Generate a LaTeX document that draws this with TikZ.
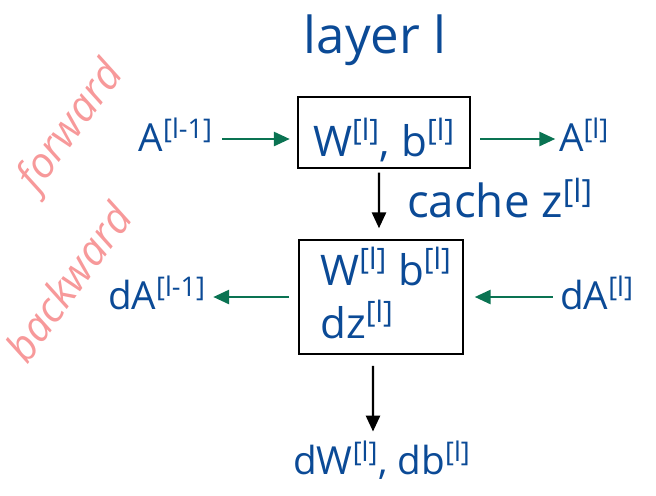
\documentclass[tikz,border=0pt]{standalone}
\usepackage{fontspec}
\setmainfont{Open Sans}
\usetikzlibrary{arrows.meta}
\definecolor{inkblue}{HTML}{0B4A96}
\definecolor{inkpink}{HTML}{F7999A}
\definecolor{inkgreen}{HTML}{0A7352}
\newcommand{\up}[1]{\textsuperscript{#1}}
\tikzset{
  lbl/.style={text=inkblue, inner sep=1pt, font=\fontsize{22}{26}\selectfont},
  biglbl/.style={lbl, font=\fontsize{26}{30}\selectfont},
  boxlbl/.style={lbl, font=\fontsize{24}{30}\selectfont},
  side/.style={text=inkpink, inner sep=1pt, rotate=54, font=\itshape\fontsize{24}{28}\selectfont},
  layerbox/.style={draw=black, line width=1.4pt, rectangle, inner sep=0pt},
  fwd/.style={draw=inkgreen, line width=1.3pt, -{Triangle[length=9pt,width=8pt]}},
  down/.style={draw=black, line width=1.3pt, -{Triangle[length=9pt,width=8pt]}},
}
\begin{document}
\begin{tikzpicture}[x=0.02cm, y=-0.02cm]
  \useasboundingbox (0,0) rectangle (656,495);

  % layer title
  \node[biglbl, font=\fontsize{29}{32}\selectfont] (title) at (375,40) {layer l};

  % forward pass box
  \node[layerbox, minimum width=3.44cm, minimum height=1.42cm] (box1) at (384,132.5) {};
  \node[boxlbl] (wb1) at (384,140) {W\up{[l]}, b\up{[l]}};

  % backward pass box
  \node[layerbox, minimum width=3.28cm, minimum height=2.28cm] (box2) at (381,297) {};
  \node[boxlbl, align=left] (wb2) at (386,293) {W\up{[l]} b\up{[l]}\\dz\up{[l]}};

  % inputs and outputs
  \node[lbl, anchor=east] (aprev) at (215,135) {A\up{[l-1]}};
  \node[lbl, anchor=west] (anext) at (557,135) {A\up{[l]}};
  \node[biglbl, anchor=west] (cache) at (405,198) {cache z\up{[l]}};
  \node[lbl, anchor=east] (daprev) at (208,293) {dA\up{[l-1]}};
  \node[lbl, anchor=west] (danext) at (558,293) {dA\up{[l]}};
  \node[lbl] (grads) at (382,460) {dW\up{[l]}, db\up{[l]}};

  % rotated side labels
  \node[side] (fwdlabel) at (72,127) {forward};
  \node[side] (bwdlabel) at (68,282) {backward};

  % connectors
  \coordinate (rowf) at (0,139);
  \coordinate (rowb) at (0,297);
  \draw[fwd, shorten <=4pt, shorten >=4pt] (rowf -| aprev.east) -- (rowf -| box1.west);
  \draw[fwd, shorten <=5pt, shorten >=1pt] (rowf -| box1.east) -- (rowf -| anext.west);
  \draw[fwd, shorten <=5pt, shorten >=3pt] (rowb -| box2.west) -- (rowb -| daprev.east);
  \draw[fwd, shorten <=3pt, shorten >=6pt] (rowb -| danext.west) -- (rowb -| box2.east);
  \draw[down, shorten <=2pt, shorten >=6pt] ([xshift=-0.1cm]box1.south) -- ([xshift=-0.04cm]box2.north);
  \draw[down, shorten <=6pt, shorten >=4pt] ([xshift=-0.16cm]box2.south) -- ([xshift=-0.18cm]grads.north);
\end{tikzpicture}
\end{document}
